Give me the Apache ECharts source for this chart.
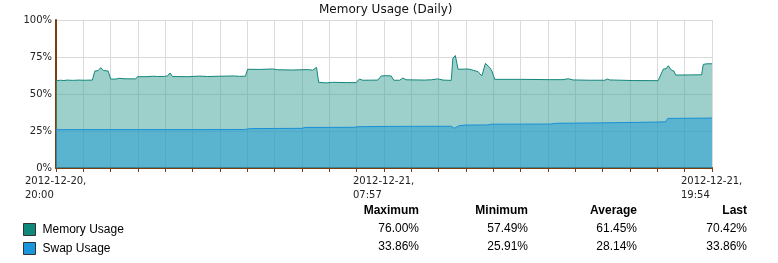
<!DOCTYPE html>
<html>
<head>
<meta charset="utf-8">
<script src="https://cdn.jsdelivr.net/npm/echarts@6/dist/echarts.min.js"></script>
<style>
  html, body { margin: 0; padding: 0; background: #fff; }
  #chart { width: 778px; height: 263px; }
</style>
</head>
<body>
<div id="chart"></div>
<script>
// ---- data (x in hours from 2012-12-20 20:00 to 2012-12-21 19:54, normalised 0..24) ----
const titleText = 'Memory Usage (Daily)';
const seriesNames = ['Memory Usage', 'Swap Usage'];

const memHours = [0, 0.17, 0.29, 0.41, 0.6, 0.84, 1.03, 1.33, 1.42, 1.54, 1.64, 1.73, 1.91, 2.0, 2.19, 2.31, 2.49, 2.92,
  2.98, 3.29, 3.59, 3.71, 3.96, 4.08, 4.17, 4.26, 4.81, 5.26, 5.54, 5.97, 6.52, 6.71, 6.93,
  7.01, 7.44, 7.93, 8.11, 8.66, 9.21, 9.39, 9.53, 9.61, 9.88, 10.12, 10.62, 10.98,
  11.1, 11.22, 11.77, 11.9, 12.05, 12.26, 12.36, 12.57, 12.69, 12.81, 13.48, 13.55, 13.73, 13.97, 14.16, 14.46,
  14.52, 14.61, 14.71, 15.07, 15.2, 15.44, 15.58, 15.71, 15.87, 15.95, 16.05, 17.0, 18.07, 18.55, 18.74, 18.92,
  19.53, 20.08, 20.17, 20.26, 21.12, 22.03, 22.22, 22.32, 22.4, 22.52, 22.61, 22.67, 23.2, 23.62, 23.68, 23.81, 24];
const memValues = [59.0, 59.3, 59.1, 59.4, 59.2, 59.4, 59.3, 59.4, 65.5, 65.8, 67.8, 65.9, 65.5, 60.1, 60.1, 60.6, 60.3, 60.2,
  61.7, 61.7, 62.0, 61.8, 61.9, 62.2, 64.2, 61.8, 61.7, 62.1, 61.8, 62.0, 62.2, 61.9, 62.0,
  66.7, 66.6, 66.9, 66.4, 66.2, 66.5, 66.1, 68.0, 57.9, 57.49, 57.9, 57.7, 57.7,
  60.1, 59.3, 59.4, 62.2, 62.4, 62.2, 59.3, 59.3, 60.8, 59.6, 59.4, 60.1, 59.6, 60.2, 59.4, 59.2,
  74.1, 76.0, 66.7, 66.9, 66.4, 65.1, 62.2, 70.7, 67.8, 65.5, 59.9, 59.9, 59.7, 59.7, 60.3, 59.5,
  59.3, 59.3, 60.1, 59.5, 59.1, 59.0, 66.9, 67.0, 69.1, 66.0, 65.5, 62.8, 62.9, 63.0, 70.0, 70.4, 70.42];

const swapHours = [0, 1.5, 3, 5, 6.9, 7.1, 8, 9.0, 9.1, 10.9, 11.05, 12, 14.45, 14.58, 14.75, 14.95, 15.8, 15.9,
  18.1, 18.3, 20, 21.9, 22.3, 22.38, 23.9, 24];
const swapValues = [25.91, 25.95, 25.95, 25.96, 26.0, 26.6, 26.7, 26.8, 27.4, 27.5, 27.9, 28.1, 28.2, 26.9, 28.6, 29.0, 29.1, 29.6,
  29.7, 30.2, 30.5, 31.0, 31.2, 33.5, 33.7, 33.86];

const xTickValues = [0, 12, 24];
const xTickLabels = ['2012-12-20,\n20:00', '2012-12-21,\n07:57', '2012-12-21,\n19:54'];

const statHeaders = ['Maximum', 'Minimum', 'Average', 'Last'];
const memStats = ['76.00%', '57.49%', '61.45%', '70.42%'];
const swapStats = ['33.86%', '25.91%', '28.14%', '33.86%'];

// ---- styles ----
const axisBrown = '#7a3e12';
const gridGray = '#dadada';
const memLine = '#14877b';
const swapLine = '#1a90d6';
const memFill = 'rgba(59,159,151,0.5)';
const swapFill = 'rgba(23,153,213,0.5)';
const labelFont = 'DejaVu Sans';
const tableFont = 'Liberation Sans';

const zip = (xs, ys) => xs.map((x, i) => [x, ys[i]]);

const colRight = [419, 528, 637, 747];
const graphics = [];
statHeaders.forEach((h, i) => {
  graphics.push({ type: 'text', x: colRight[i], y: 211, style: { text: h, align: 'right', verticalAlign: 'middle',
    font: 'bold 12px "' + tableFont + '"', fill: '#000' } });
});
[memStats, swapStats].forEach((row, r) => {
  row.forEach((v, i) => {
    graphics.push({ type: 'text', x: colRight[i], y: 229 + r * 18, style: { text: v, align: 'right', verticalAlign: 'middle',
      font: '12px "' + tableFont + '"', fill: '#000' } });
  });
});

const chart = echarts.init(document.getElementById('chart'), null, { renderer: 'canvas' });
chart.setOption({
  animation: false,
  backgroundColor: '#fff',
  title: {
    text: titleText, left: 319, top: 3, padding: 0,
    textStyle: { fontFamily: labelFont, fontSize: 12, fontWeight: 'normal', color: '#111', lineHeight: 14 }
  },
  grid: { left: 56, right: 66, top: 20, bottom: 95 },
  legend: {
    orient: 'vertical', left: 23, top: 223, itemWidth: 12, itemHeight: 12, itemGap: 6, padding: 0,
    selectedMode: false,
    textStyle: { fontFamily: tableFont, fontSize: 12, color: '#000', lineHeight: 12, padding: [0, 0, 0, 2] },
    data: [
      { name: seriesNames[0], icon: 'rect', itemStyle: { color: '#0f877a', borderColor: '#333', borderWidth: 1 } },
      { name: seriesNames[1], icon: 'rect', itemStyle: { color: '#1a96dc', borderColor: '#333', borderWidth: 1 } }
    ]
  },
  xAxis: {
    type: 'value', min: 0, max: 24, interval: 1,
    axisLine: { show: true, onZero: false, lineStyle: { color: axisBrown, width: 2 } },
    axisTick: { show: true, length: 4, lineStyle: { color: axisBrown, width: 1 } },
    splitLine: { show: true, lineStyle: { color: gridGray, width: 1 } },
    axisLabel: {
      show: true, margin: 6, showMinLabel: true, showMaxLabel: true, hideOverlap: false,
      fontFamily: labelFont, fontSize: 10, color: '#222', lineHeight: 14,
      align: 'left', padding: [0, 0, 0, -31],
      formatter: (v) => { const k = xTickValues.indexOf(Math.round(v * 1000) / 1000); return k >= 0 ? xTickLabels[k] : ''; }
    }
  },
  yAxis: {
    type: 'value', min: 0, max: 100, interval: 25,
    axisLine: { show: true, lineStyle: { color: axisBrown, width: 2 } },
    axisTick: { show: false },
    splitLine: { show: true, lineStyle: { color: gridGray, width: 1 } },
    axisLabel: { margin: 4, fontFamily: labelFont, fontSize: 10, color: '#222', formatter: '{value}%' }
  },
  series: [
    {
      name: seriesNames[0], type: 'line', data: zip(memHours, memValues), showSymbol: false, symbol: 'none',
      color: '#0f877a',
      lineStyle: { color: memLine, width: 1 }, areaStyle: { color: memFill, opacity: 1 }, z: 2
    },
    {
      name: seriesNames[1], type: 'line', data: zip(swapHours, swapValues), showSymbol: false, symbol: 'none',
      color: '#1a96dc',
      lineStyle: { color: swapLine, width: 1 }, areaStyle: { color: swapFill, opacity: 1 }, z: 3
    }
  ],
  graphic: graphics
});
</script>
</body>
</html>
